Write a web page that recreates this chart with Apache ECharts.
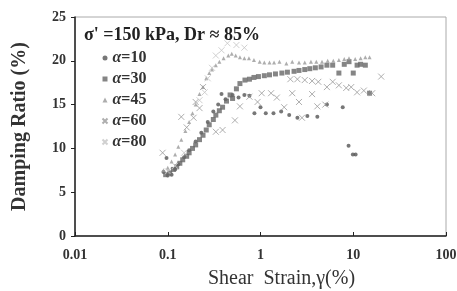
<!DOCTYPE html>
<html>
<head>
<meta charset="utf-8">
<script src="https://cdn.jsdelivr.net/npm/echarts@6/dist/echarts.min.js"></script>
<style>
  html, body { margin: 0; padding: 0; background: #fff; }
  #chart { width: 457px; height: 291px; }
</style>
</head>
<body>
<div id="chart"></div>
<script>
// shear strain (%) / damping ratio (%)
var a10 = [[0.09,7.3],[0.1,6.9],[0.11,7.0],[0.12,7.6],[0.097,8.9],[0.13,8.2],[0.15,9.0],[0.17,9.8],[0.2,10.8],[0.23,11.8],[0.27,13.0],[0.31,14.2],[0.35,15.0],[0.38,16.2],[0.42,15.6],[0.5,16.1],[0.58,15.8],[0.67,16.1],[0.76,16.0],[0.86,14.0],[1.0,14.7],[1.14,14.0],[1.38,14.0],[1.67,14.2],[2.04,13.8],[2.5,13.5],[3.2,13.7],[4.1,13.6],[5.2,15.0],[7.7,14.7],[8.9,10.3],[9.9,9.3],[10.6,9.3]];
var a30 = [[0.095,7.0],[0.105,7.2],[0.115,7.6],[0.125,7.9],[0.135,8.3],[0.145,8.7],[0.16,9.1],[0.17,9.5],[0.185,10.0],[0.2,10.4],[0.22,11.0],[0.24,11.5],[0.26,12.1],[0.28,12.7],[0.31,13.3],[0.33,13.8],[0.36,14.3],[0.39,14.7],[0.43,15.4],[0.47,16.1],[0.5,15.7],[0.55,16.8],[0.6,17.4],[0.68,17.8],[0.76,17.9],[0.85,18.1],[0.95,18.2],[1.1,18.3],[1.25,18.4],[1.45,18.5],[1.7,18.6],[1.95,18.7],[2.3,18.8],[2.6,18.9],[3.0,19.0],[3.4,19.1],[3.9,19.2],[4.5,19.3],[5.2,19.5],[6.0,19.5],[7.0,18.6],[8.0,19.6],[9.0,19.9],[10.0,18.6],[11,19.5],[12,19.6],[13.5,19.5],[15,16.3]];
var a45 = [[0.09,7.5],[0.1,7.8],[0.11,8.5],[0.12,9.3],[0.13,10.2],[0.14,11.0],[0.155,12.0],[0.17,13.0],[0.185,14.0],[0.2,15.0],[0.22,16.2],[0.24,17.0],[0.26,18.0],[0.28,18.6],[0.3,19.0],[0.33,19.5],[0.36,19.9],[0.4,20.3],[0.45,20.6],[0.49,20.8],[0.54,20.6],[0.6,20.4],[0.67,20.3],[0.75,20.3],[0.85,20.1],[0.98,19.9],[1.1,19.8],[1.25,19.8],[1.4,19.8],[1.6,19.9],[1.9,19.7],[2.2,19.9],[2.6,19.8],[3.0,19.8],[3.5,19.9],[4.0,19.9],[4.6,19.9],[5.3,20.0],[6.1,20.0],[7.0,20.1],[8.0,20.2],[9.0,20.3],[10.5,20.2],[12,20.3],[13.5,20.4],[15,20.4]];
var a60 = [[0.088,9.5],[0.14,13.6],[0.16,12.4],[0.19,13.5],[0.2,15.3],[0.22,14.6],[0.24,17.0],[0.33,11.9],[0.39,12.1],[0.53,13.2],[0.6,14.8],[0.76,15.9],[0.93,15.3],[1.03,16.3],[1.3,16.3],[1.5,15.8],[1.8,14.7],[2.2,16.3],[2.6,15.3],[2.8,13.5],[3.6,16.2],[4.1,14.8],[5.0,15.0],[2.1,17.9],[2.5,17.9],[3.0,17.8],[3.6,17.7],[4.2,17.6],[5.2,17.0],[6.0,17.6],[7.0,17.2],[8.4,16.9],[9.5,17.0],[11,16.4],[13,16.6],[16,16.3],[20,18.2]];
var a80 = [[0.1,7.4],[0.12,8.0],[0.15,9.5],[0.22,15.5],[0.25,16.4],[0.27,18.0],[0.3,19.2],[0.33,20.6],[0.38,21.2],[0.44,22.0],[0.55,21.8],[0.67,21.5]];
var xTicks = [0.01, 0.1, 1, 10, 100];

var serif = '"Liberation Serif", "DejaVu Serif", serif';
var crossPath = 'path://M0,0L10,10M10,0L0,10';

var myChart = echarts.init(document.getElementById('chart'));
var option = {
  backgroundColor: '#fff',
  animation: false,
  title: {
    text: "σ' =150 kPa, Dr ≈ 85%",
    left: 79,
    top: 21,
    textStyle: { fontFamily: serif, fontWeight: 'bold', fontSize: 18, color: '#222' }
  },
  legend: {
    orient: 'vertical',
    left: 95,
    top: 45,
    itemGap: 5,
    itemWidth: 5,
    itemHeight: 5,
    formatter: function (name) { return '{a|α}' + name.slice(1); },
    textStyle: {
      fontFamily: serif, fontWeight: 'bold', fontSize: 16, color: '#333',
      rich: { a: { fontFamily: serif, fontWeight: 'bold', fontStyle: 'italic', fontSize: 16, color: '#333' } }
    },
    data: ['α=10', 'α=30', 'α=45', 'α=60', 'α=80']
  },
  grid: {
    left: 75, right: 11, top: 17, bottom: 55,
    outerBoundsMode: 'none',
    show: true, borderColor: '#aaa', borderWidth: 1
  },
  xAxis: {
    type: 'log',
    logBase: 10,
    min: 0.01,
    max: 100,
    name: 'Shear  Strain,γ(%)',
    nameLocation: 'middle',
    nameGap: 33,
    nameTextStyle: { fontFamily: serif, fontSize: 20, color: '#333', padding: [0, 0, 0, 42] },
    axisLine: { lineStyle: { color: '#222', width: 1.5 } },
    axisTick: { inside: true, length: 4, lineStyle: { color: '#222' } },
    minorTick: { show: false },
    splitLine: { show: false },
    axisLabel: {
      fontFamily: serif, fontWeight: 'bold', fontSize: 14, color: '#333', margin: 12,
      formatter: function (v) {
        var n = Number(v.toPrecision(3));
        return xTicks.indexOf(n) >= 0 ? String(n) : '';
      }
    }
  },
  yAxis: {
    type: 'value',
    min: 0,
    max: 25,
    interval: 5,
    name: 'Damping Ratio (%)',
    nameLocation: 'middle',
    nameGap: 45,
    nameTextStyle: { fontFamily: serif, fontWeight: 'bold', fontSize: 20, color: '#333' },
    axisLine: { show: true, lineStyle: { color: '#222', width: 1.5 } },
    axisTick: { show: true, length: 4, lineStyle: { color: '#222' } },
    splitLine: { show: false },
    axisLabel: { fontFamily: serif, fontWeight: 'bold', fontSize: 14, color: '#333', margin: 9 }
  },
  series: [
    {
      name: 'α=10', type: 'scatter', symbol: 'circle', symbolSize: 4,
      itemStyle: { color: '#555' }, data: a10
    },
    {
      name: 'α=30', type: 'scatter', symbol: 'rect', symbolSize: 5,
      itemStyle: { color: '#666' }, data: a30
    },
    {
      name: 'α=45', type: 'scatter', symbol: 'triangle', symbolSize: 4,
      itemStyle: { color: '#999' }, data: a45
    },
    {
      name: 'α=60', type: 'scatter', symbol: crossPath, symbolSize: 6,
      itemStyle: { color: 'none', borderColor: '#9a9a9a', borderWidth: 1 }, data: a60
    },
    {
      name: 'α=80', type: 'scatter', symbol: crossPath, symbolSize: 6,
      itemStyle: { color: 'none', borderColor: '#c4c4c4', borderWidth: 1 }, data: a80
    }
  ]
};
myChart.setOption(option);
</script>
</body>
</html>
